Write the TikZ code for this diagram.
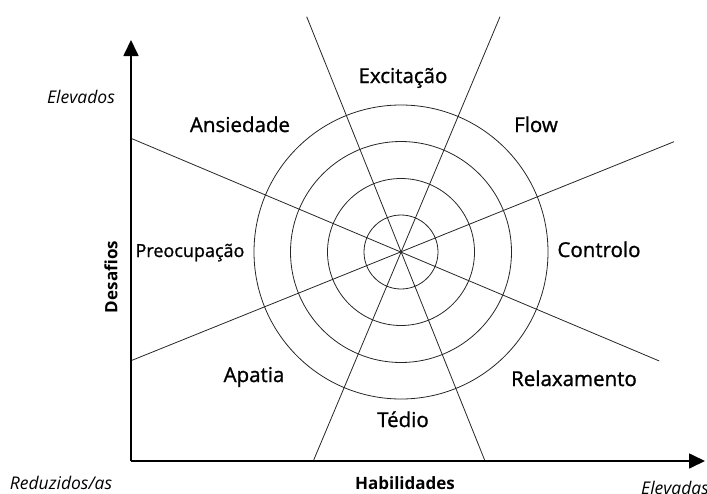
\documentclass[tikz,border=0pt]{standalone}
\usepackage{fontspec}
\setmainfont{Open Sans}
\newfontfamily\semifont[FakeBold=1.1]{Open Sans}
\usetikzlibrary{arrows.meta}
\begin{document}
\begin{tikzpicture}[x=1pt,y=-1pt,
  axis/.style={line width=1.7pt, -{Triangle[length=16pt,width=15pt]}},
  ray/.style={line width=0.8pt, draw=black!85},
  ring/.style={line width=0.8pt, draw=black!85},
  zone/.style={font=\semifont\fontsize{20.5}{22}\selectfont, inner sep=0pt, anchor=base},
  smallzone/.style={font=\semifont\fontsize{18}{20}\selectfont, inner sep=0pt, anchor=base},
  axlabel/.style={font=\bfseries\fontsize{17}{19}\selectfont, inner sep=0pt},
  endlabel/.style={font=\itshape\fontsize{17.5}{19}\selectfont, inner sep=0pt, anchor=base}]
\useasboundingbox (0,0) rectangle (707,493);
% centre and rays
\coordinate (c) at (401,252);
\coordinate (r1a) at (131,138.3);
\coordinate (r1b) at (659.3,361);
\coordinate (r2a) at (131,360.7);
\coordinate (r2b) at (674,141.7);
\coordinate (r3a) at (306.7,16.7);
\coordinate (r3b) at (485,461);
\coordinate (r4a) at (500,16.7);
\coordinate (r4b) at (313.3,461);
\foreach \r in {37,73.5,110.5,147} \draw[ring] (c) circle[radius=\r];
\draw[ray] (r1a) -- (r1b);
\draw[ray] (r2a) -- (r2b);
\draw[ray] (r3a) -- (r3b);
\draw[ray] (r4a) -- (r4b);
% axes
\coordinate (O) at (131,461);
\coordinate (ytip) at (131,40);
\coordinate (xtip) at (705,461);
\draw[axis] (O) -- (ytip);
\draw[axis] (O) -- (xtip);
% zone labels
\node[zone] (exc) at (403,83) {Excitação};
\node[zone] (ans) at (240,132) {Ansiedade};
\node[zone] (flow) at (536,132) {Flow};
\node[smallzone] (pre) at (190,257) {Preocupação};
\node[zone] (con) at (599,257) {Controlo};
\node[zone] (apa) at (254,382) {Apatia};
\node[zone] (rel) at (574,386) {Relaxamento};
\node[zone] (ted) at (403,427) {Tédio};
% axis labels
\node[axlabel, anchor=base] (hab) at (405,489) {Habilidades};
\node[axlabel, rotate=90] (des) at (111,277) {Desafios};
\node[endlabel] (elo) at (81,103) {Elevados};
\node[endlabel] (red) at (61,489) {Reduzidos/as};
\node[endlabel, anchor=base west] (ela) at (641,494) {Elevadas};
\end{tikzpicture}
\end{document}
